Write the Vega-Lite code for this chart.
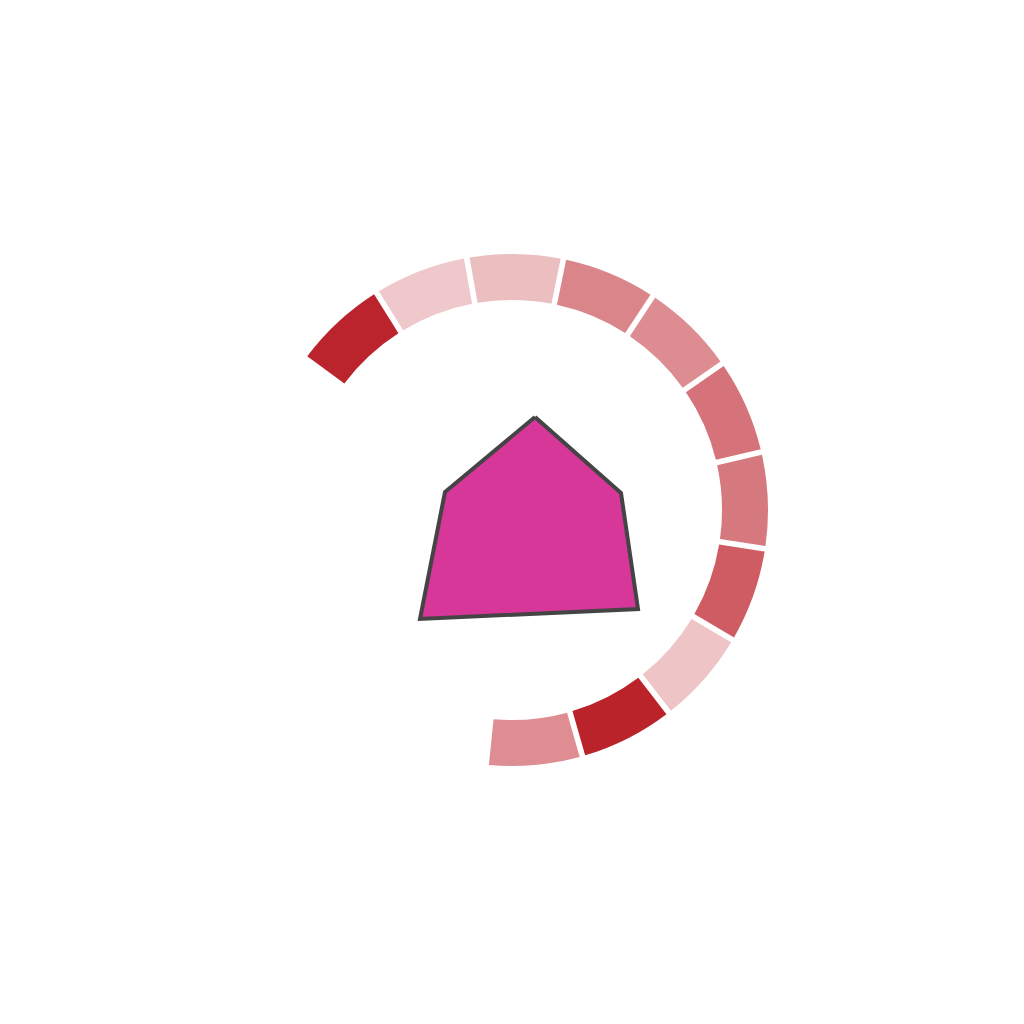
{
  "$schema": "https://vega.github.io/schema/vega-lite/v6.json",
  "width": 1024,
  "height": 1020,
  "autosize": "none",
  "padding": 0,
  "background": "white",
  "config": {"view": {"stroke": null}},
  "layer": [
    {
      "data": {"values": [
        {"seg": 1, "v": 1}, {"seg": 2, "v": 1}, {"seg": 3, "v": 1}, {"seg": 4, "v": 1},
        {"seg": 5, "v": 1}, {"seg": 6, "v": 1}, {"seg": 7, "v": 1}, {"seg": 8, "v": 1},
        {"seg": 9, "v": 1}, {"seg": 10, "v": 1}, {"seg": 11, "v": 1}
      ]},
      "mark": {"type": "arc", "innerRadius": 210, "outerRadius": 256, "padAngle": 0.017},
      "encoding": {
        "theta": {"field": "v", "type": "quantitative", "stack": true, "scale": {"range": [-0.938, 3.243]}},
        "order": {"field": "seg", "type": "quantitative"},
        "color": {
          "field": "seg", "type": "ordinal", "legend": null,
          "scale": {
            "domain": [1, 2, 3, 4, 5, 6, 7, 8, 9, 10, 11],
            "range": ["#bb242d", "#efc8cb", "#ebbec0", "#d9858a", "#dd8d91", "#d5727a", "#d5797e", "#cf5c62", "#eec4c6", "#bb232b", "#de8e93"]
          }
        }
      }
    },
    {
      "data": {"values": [
        {"i": 0, "px": 535, "py": 417},
        {"i": 1, "px": 621, "py": 493},
        {"i": 2, "px": 638, "py": 609},
        {"i": 3, "px": 420, "py": 619},
        {"i": 4, "px": 445, "py": 492},
        {"i": 5, "px": 535, "py": 417}
      ]},
      "mark": {"type": "line", "fill": "#d63799", "stroke": "#444444", "strokeWidth": 4, "strokeJoin": "miter"},
      "encoding": {
        "x": {"field": "px", "type": "quantitative", "scale": {"domain": [0, 1024], "nice": false}, "axis": null},
        "y": {"field": "py", "type": "quantitative", "scale": {"domain": [1020, 0], "nice": false}, "axis": null},
        "order": {"field": "i", "type": "quantitative"}
      }
    }
  ]
}
